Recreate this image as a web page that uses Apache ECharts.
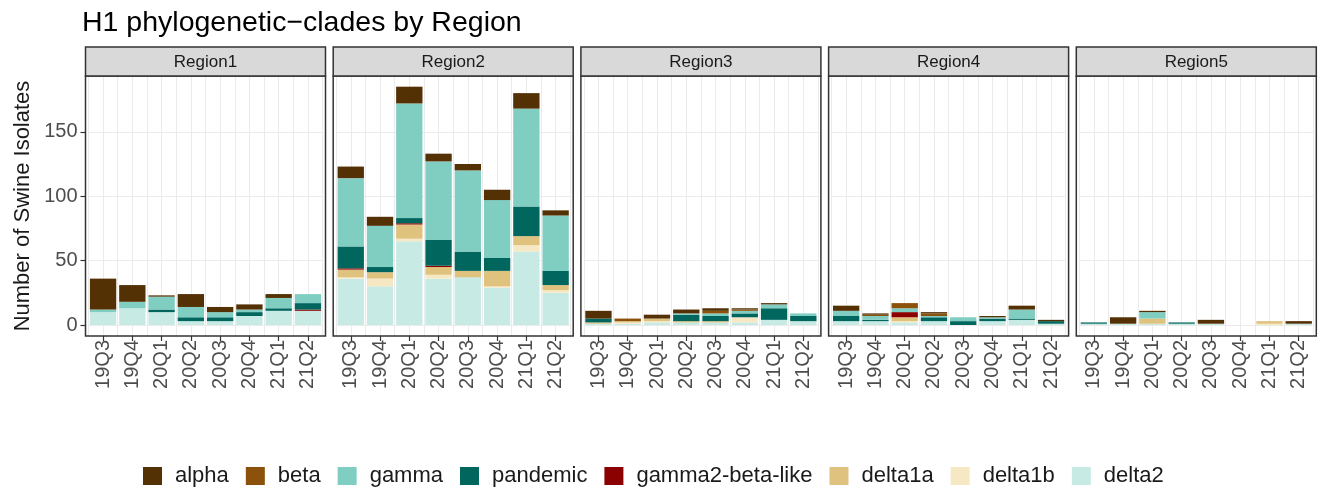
<!DOCTYPE html>
<html>
<head>
<meta charset="utf-8">
<title>H1 phylogenetic clades by Region</title>
<script src="https://cdn.jsdelivr.net/npm/echarts@6/dist/echarts.min.js"></script>
<style>
  html, body { margin: 0; padding: 0; background: #fff; }
  #chart { width: 1322px; height: 489px; }
</style>
</head>
<body>
<div id="chart"></div>
<script>
// ---- data ----
const quarters = ['19Q3', '19Q4', '20Q1', '20Q2', '20Q3', '20Q4', '21Q1', '21Q2']
const regions = ['Region1', 'Region2', 'Region3', 'Region4', 'Region5']
const yTickValues = [0, 50, 100, 150]

// one row per region, one value per quarter
const alpha = [
  [24, 13, 1, 10, 4, 4, 3, 0],
  [9, 7, 13, 6, 5, 8, 12, 4],
  [6, 0, 3, 3, 2, 1, 1, 0],
  [4, 1, 0, 1, 0, 1, 3, 1],
  [0, 5, 1, 0, 3, 0, 0, 2]
]
const beta = [
  [0, 0, 0, 0, 0, 0, 0, 0],
  [0, 0, 0, 0, 0, 0, 0, 0],
  [0, 2, 0, 0, 2, 1, 0, 0],
  [0, 1, 4, 2, 0, 0, 0, 0],
  [0, 0, 0, 0, 0, 0, 0, 0]
]
const gamma = [
  [2, 5, 10, 8, 4, 2, 8, 7],
  [53, 32, 89, 61, 63, 45, 76, 43],
  [0, 0, 0, 1, 2, 2, 3, 2],
  [4, 3, 3, 1, 3, 1, 7, 0],
  [0, 0, 5, 0, 0, 0, 0, 0]
]
const pandemic = [
  [0, 0, 2, 3, 3, 3, 2, 5],
  [17, 4, 4, 20, 15, 10, 23, 11],
  [3, 0, 0, 5, 4, 3, 9, 4],
  [4, 1, 0, 3, 3, 2, 1, 2],
  [1, 0, 0, 1, 0, 0, 0, 0]
]
const gamma2BetaLike = [
  [0, 0, 0, 0, 0, 0, 0, 1],
  [1, 0, 1, 1, 0, 0, 0, 0],
  [0, 0, 0, 0, 0, 0, 0, 0],
  [0, 0, 4, 0, 0, 0, 0, 0],
  [0, 0, 0, 0, 0, 0, 0, 0]
]
const delta1a = [
  [0, 0, 0, 0, 0, 0, 0, 0],
  [6, 5, 11, 6, 5, 12, 7, 4],
  [1, 1, 2, 1, 1, 0, 0, 0],
  [0, 0, 3, 0, 0, 0, 0, 0],
  [0, 0, 4, 0, 0, 0, 2, 0]
]
const delta1b = [
  [0, 0, 0, 0, 0, 0, 0, 0],
  [1, 6, 2, 3, 0, 1, 5, 2],
  [0, 1, 1, 0, 0, 4, 0, 0],
  [0, 0, 1, 0, 0, 0, 0, 0],
  [0, 0, 0, 0, 0, 0, 1, 0]
]
const delta2 = [
  [10, 13, 10, 3, 3, 7, 11, 11],
  [36, 30, 65, 36, 37, 29, 57, 25],
  [1, 1, 2, 2, 2, 2, 4, 3],
  [3, 3, 2, 3, 0, 3, 4, 1],
  [1, 1, 1, 1, 1, 0, 0, 1]
]

// legend order (top of stack first)
const clades = [
  { name: 'alpha', values: alpha, color: '#543005' },
  { name: 'beta', values: beta, color: '#8C510A' },
  { name: 'gamma', values: gamma, color: '#80CDC1' },
  { name: 'pandemic', values: pandemic, color: '#01665E' },
  { name: 'gamma2-beta-like', values: gamma2BetaLike, color: '#8B0000' },
  { name: 'delta1a', values: delta1a, color: '#DFC27D' },
  { name: 'delta1b', values: delta1b, color: '#F6E8C3' },
  { name: 'delta2', values: delta2, color: '#C7EAE5' }
]

// ---- layout ----
const PANEL_LEFT = 85.5
const PANEL_STEP = 247.7
const PANEL_W = 240
const PANEL_TOP = 76
const ZERO_Y = 325
const PANEL_BOTTOM = 336
const STRIP_TOP = 47
const Y_MAX = 193.3
const PAD = PANEL_W * 0.1 / 8.2   // ggplot's 0.6 expansion on a discrete axis
const GRID_COLOR = '#EBEBEB'
const FONT = 'Liberation Sans, Arial, sans-serif'

const chart = echarts.init(document.getElementById('chart'))

const grid = []
const xAxis = []
const yAxis = []
const series = []
const graphic = []

regions.forEach((region, i) => {
  const left = PANEL_LEFT + i * PANEL_STEP
  // data grid: bars, zero at ZERO_Y
  grid.push({ left: left + PAD, width: PANEL_W - 2 * PAD, top: PANEL_TOP, height: ZERO_Y - PANEL_TOP })
  // frame grid: full panel height, vertical lines + x labels
  grid.push({ left: left + PAD, width: PANEL_W - 2 * PAD, top: PANEL_TOP, height: PANEL_BOTTOM - PANEL_TOP })

  xAxis.push({
    type: 'category', gridIndex: 2 * i, data: quarters, show: false
  })
  xAxis.push({
    type: 'category', gridIndex: 2 * i + 1, position: 'bottom',
    data: new Array(16).fill(''),
    axisLine: { show: false }, axisTick: { show: false }, axisLabel: { show: false },
    splitLine: { show: true, lineStyle: { color: GRID_COLOR, width: 1 } }
  })
  xAxis.push({
    type: 'category', gridIndex: 2 * i + 1, position: 'bottom', data: quarters,
    axisLine: { show: false },
    axisTick: { show: true, alignWithLabel: true, length: 5, lineStyle: { color: '#333', width: 1.2 } },
    axisLabel: { interval: 0, rotate: 90, margin: 4, fontSize: 20, color: '#4D4D4D', fontFamily: FONT },
    splitLine: { show: false }
  })

  yAxis.push({
    type: 'value', gridIndex: 2 * i, min: 0, max: Y_MAX, interval: 25, offset: PAD,
    axisLine: { show: false },
    axisTick: { show: i === 0, customValues: yTickValues, length: 5, lineStyle: { color: '#333', width: 1.2 } },
    axisLabel: { show: i === 0, customValues: yTickValues, margin: 8, fontSize: 20, color: '#4D4D4D', fontFamily: FONT },
    splitLine: { show: true, lineStyle: { color: GRID_COLOR, width: 1 } }
  })
  yAxis.push({ type: 'value', gridIndex: 2 * i + 1, min: 0, max: 1, show: false, splitLine: { show: false } })

  // bottom of stack first
  clades.slice().reverse().forEach(c => {
    series.push({
      type: 'bar', name: c.name, stack: 'r' + i,
      xAxisIndex: 3 * i, yAxisIndex: 2 * i,
      data: c.values[i], barCategoryGap: '10%',
      itemStyle: { color: c.color },
      emphasis: { disabled: true }
    })
  })

  // panel border and strip
  graphic.push({
    type: 'rect', z: 100,
    shape: { x: left, y: PANEL_TOP, width: PANEL_W, height: PANEL_BOTTOM - PANEL_TOP },
    style: { fill: 'none', stroke: '#333', lineWidth: 1.5 }
  })
  graphic.push({
    type: 'rect', z: 100,
    shape: { x: left, y: STRIP_TOP, width: PANEL_W, height: PANEL_TOP - STRIP_TOP },
    style: { fill: '#D9D9D9', stroke: '#333', lineWidth: 1.5 }
  })
  graphic.push({
    type: 'text', z: 101, x: left + PANEL_W / 2, y: (STRIP_TOP + PANEL_TOP) / 2 + 1,
    style: { text: region, fontSize: 17, fill: '#1A1A1A', align: 'center', verticalAlign: 'middle', fontFamily: FONT }
  })
})

// y axis title
graphic.push({
  type: 'text', z: 101, x: 23, y: (PANEL_TOP + PANEL_BOTTOM) / 2, rotation: Math.PI / 2,
  style: { text: 'Number of Swine Isolates', fontSize: 22, fill: '#1A1A1A', align: 'center', verticalAlign: 'middle', fontFamily: FONT }
})

const option = {
  animation: false,
  backgroundColor: '#fff',
  title: {
    text: 'H1 phylogenetic\u2212clades by Region',
    left: 82, top: 9, padding: 0,
    textStyle: { fontSize: 28.5, fontWeight: 'normal', color: '#000', fontFamily: FONT }
  },
  legend: {
    data: clades.map(c => c.name),
    left: 143, top: 465, padding: 0,
    icon: 'rect', itemWidth: 19, itemHeight: 18, itemGap: 17,
    selectedMode: false,
    textStyle: { fontSize: 22, color: '#1A1A1A', padding: [0, 0, 0, 8], fontFamily: FONT }
  },
  grid,
  xAxis,
  yAxis,
  series,
  graphic
}

chart.setOption(option)
</script>
</body>
</html>
